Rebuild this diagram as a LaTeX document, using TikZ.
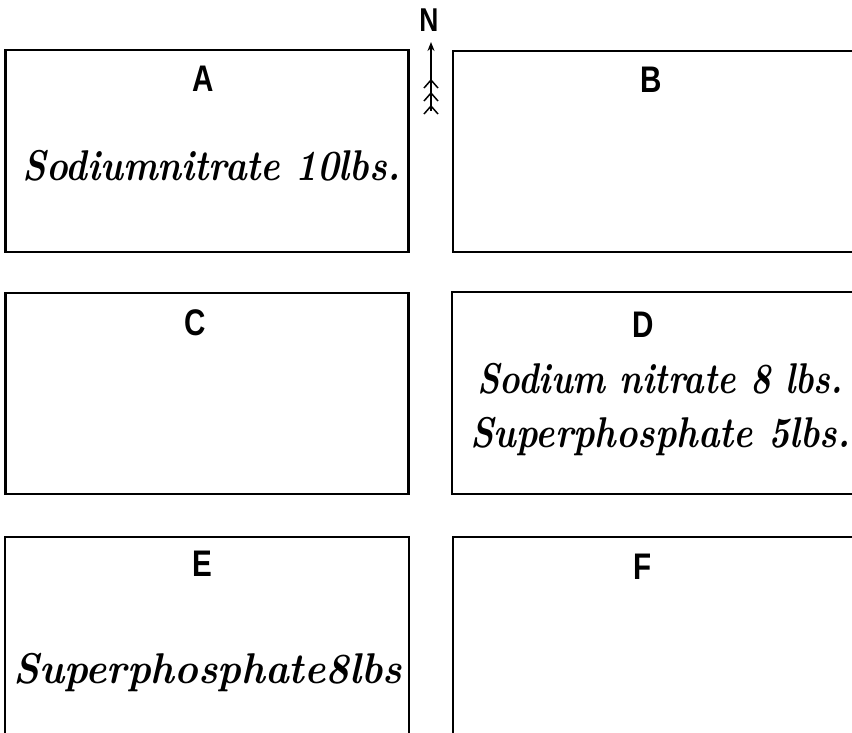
\documentclass[tikz,border=0pt]{standalone}
\usepackage{fontspec}
\usepackage{graphicx}
\newfontfamily\lblfont{Liberation Sans}
\usetikzlibrary{arrows.meta}
\newcommand\fitw[2]{\resizebox{#1}{\height}{#2}}
\newcommand\cond[1]{\scalebox{0.8}[1]{#1}}
\begin{document}
\begin{tikzpicture}[x=1pt,y=-1pt,
  plotbox/.style={draw, line width=2.2pt, inner sep=0pt},
  letter/.style={font=\lblfont\bfseries\fontsize{37}{37}\selectfont, inner sep=0pt},
  crop/.style={font=\bfseries\itshape\fontsize{43}{43}\selectfont, inner sep=0pt, anchor=base west},
  feather/.style={line width=1.5pt}]
\useasboundingbox (0,0) rectangle (852,732);
\fill[white] (0,0) rectangle (852,732);
\clip (0,0) rectangle (852,732);
% plots
\node[plotbox, minimum width=403pt, minimum height=202pt] (A) at (207,151) {};
\node[plotbox, minimum width=427pt, minimum height=201pt] (B) at (666.5,151.5) {};
\node[plotbox, minimum width=403pt, minimum height=201pt] (C) at (207,393.5) {};
\node[plotbox, minimum width=428pt, minimum height=202pt] (D) at (666,393) {};
\node[plotbox, minimum width=404pt, minimum height=223pt] (E) at (207,648.5) {};
\node[plotbox, minimum width=427pt, minimum height=223pt] (F) at (666.5,648.5) {};
% letters
\node[letter] (lA) at (203,79) {\cond{A}};
\node[letter] (lB) at (651,80) {\cond{B}};
\node[letter] (lC) at (195,323) {\cond{C}};
\node[letter] (lD) at (643,325) {\cond{D}};
\node[letter] (lE) at (202,564) {\cond{E}};
\node[letter] (lF) at (643,567) {\cond{F}};
% texts
\node[crop] (tA) at (22,180) {\fitw{378pt}{Sodiumnitrate 10lbs.}};
\node[crop] (tD1) at (477,393) {\fitw{366pt}{Sodium nitrate 8 lbs.}};
\node[crop] (tD2) at (470,447) {\fitw{380pt}{Superphosphate 5lbs.}};
\node[crop] (tE) at (13,683) {\fitw{389pt}{Superphosphate8lbs}};
% north arrow
\node[letter, font=\lblfont\bfseries\fontsize{33}{33}\selectfont] (N) at (429,20) {\cond{N}};
\coordinate (ntail) at (431,111);
\coordinate (nhead) at (431,42);
\draw[line width=1.5pt, -{Stealth[length=9pt,width=7pt]}] (ntail) -- (nhead);
\foreach \yy in {80,93,106}
  \draw[feather] (424,\yy+8) -- (431,\yy) -- (438,\yy+8);
\end{tikzpicture}
\end{document}
